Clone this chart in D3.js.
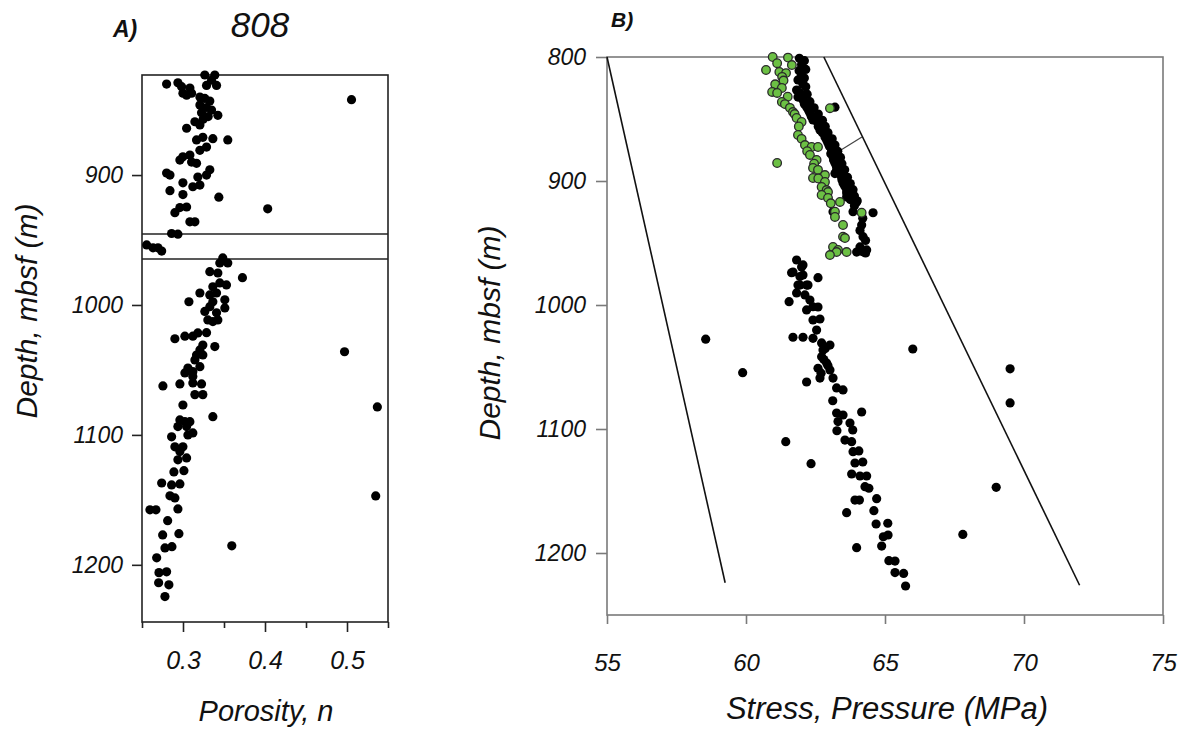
<!DOCTYPE html>
<html><head><meta charset="utf-8">
<script src="https://cdn.jsdelivr.net/npm/d3@7"></script>
<style>
body{margin:0;background:#fff;}
text{font-family:"Liberation Sans",Arial,sans-serif;font-style:italic;fill:#111;}
</style></head><body>
<svg id="c" width="1188" height="732"></svg>
<script>
// ---------- DATA ----------
// Panel A: porosity n vs depth (mbsf)
const porosityPoints = [
[0.3266,823],[0.3388,823],[0.3348,827],[0.3287,831],[0.3409,831],[0.280,830],[0.2938,829],[0.2983,832],
[0.3084,833],[0.2999,837],[0.3044,838.5],[0.3105,837],[0.3206,840],[0.3266,841],[0.3327,843],[0.3206,846],
[0.3287,848],[0.3348,850],[0.3226,852],[0.3307,855],[0.3246,857],[0.3425,854],[0.3145,859],[0.3044,864],
[0.3206,861.5],[0.3242,871],[0.3165,873],[0.3364,872],[0.3546,873],[0.3287,878.5],[0.3206,881],[0.3084,884.6],
[0.2999,886],[0.2962,888.5],[0.3105,890],[0.3165,891],[0.3327,896],[0.280,898.5],[0.2841,900],[0.3181,901.5],
[0.3287,900],[0.2999,906],[0.312,909],[0.3206,907.7],[0.2841,912],[0.2999,915],[0.3437,917],[0.2962,925],
[0.3044,924.6],[0.2901,929],[0.3084,936],[0.3145,936],[0.4033,926],[0.5055,842],
[0.2861,945],[0.2938,945.5],[0.2557,953.8],[0.2634,956],[0.2695,956],[0.274,958.5],
[0.3485,963.8],[0.3546,967.7],[0.3449,967.7],[0.3725,979],[0.3327,974.4],[0.3425,975.4],[0.3449,983],
[0.3364,986],[0.353,984.6],[0.3206,990.8],[0.3327,992.3],[0.3409,990.8],[0.351,996],[0.3072,997.5],
[0.3364,997.5],[0.3327,1001.3],[0.351,1002.3],[0.3266,1005],[0.3409,1006],[0.3303,1011.5],[0.3425,1011.5],
[0.3364,1012.8],[0.2901,1026],[0.3023,1024],[0.312,1024],[0.3181,1021.5],[0.3287,1021.3],[0.3242,1030.8],
[0.3388,1032],[0.3206,1034.6],[0.3165,1038.5],[0.3242,1038.5],[0.3145,1042.3],[0.3206,1047.5],[0.306,1048.5],
[0.312,1051.3],[0.3023,1052.3],[0.312,1055],[0.2755,1062.3],[0.2962,1060.8],[0.312,1060],[0.3226,1060.8],
[0.3145,1069],[0.3242,1069],[0.2999,1077],[0.3364,1086],[0.2962,1088.5],[0.3023,1089.8],[0.3084,1089.8],
[0.2938,1093.6],[0.3044,1093.6],[0.312,1098.5],[0.306,1100],[0.2861,1101.5],[0.2901,1109.2],[0.2999,1109.2],
[0.2962,1112.8],[0.2938,1119.2],[0.3044,1117.7],[0.2889,1128.5],[0.3011,1127.5],[0.274,1137],[0.2861,1138.5],
[0.2962,1137.7],[0.2841,1146.9],[0.2901,1148.5],[0.2938,1157],[0.2597,1157.7],[0.267,1157.7],[0.2813,1166],
[0.2752,1177],[0.295,1176],[0.278,1187],[0.2865,1186],[0.3595,1185.4],[0.2679,1194.6],[0.2707,1206],
[0.28,1205.4],[0.2703,1213.8],[0.2828,1215.4],[0.278,1224.4],
[0.497,1036],[0.537,1078.5],[0.535,1147]
];
// Panel A horizontal boundary depths
const boundaryDepths = [945.4, 964.6];
const porosityTicks = [0.3, 0.4, 0.5];
const porosityMinorTicks = [0.25, 0.35, 0.45, 0.55];
const depthTicksA = [900, 1000, 1100, 1200];

// Panel B: stress/pressure (MPa) vs depth
const blackPoints = [
[61.92,801],[62.0,806],[61.91,811],[62.0,815],[61.87,818.5],[62.05,822],[61.82,826.6],[61.95,829],[61.87,832.3],
[62.05,834.7],[62.1,838],[62.18,840.3],[63.2,840.5],[62.25,843],[62.30,845.2],[62.35,848],[62.41,850.8],[62.5,851],
[62.59,853.2],[62.6,856],[62.66,858.9],[62.75,861],[62.84,864.5],[62.9,867],[62.95,869.4],[63.0,872],[63.08,875],
[63.05,878],[63.13,880.6],[63.15,883],[63.20,885.5],[63.25,888],[63.26,891],[63.2,894],[63.35,894],[63.49,893.5],
[63.44,896.8],[63.45,899],[63.49,901.6],[63.55,904],[63.62,904.8],[63.62,907.3],[63.62,909.7],[63.7,910],
[63.62,912.9],[63.75,915],[63.98,916.9],[63.9,920],[63.85,924.8],[63.13,924.8],[64.57,925.6],[64.16,935.5],
[64.21,944.9],[64.10,953.2],[64.34,955.6],[63.98,957.3],[64.2,957],[64.3,958],
// right side of the dense upper band
[62.1,803],[62.15,810],[62.1,817],[62.15,824],[62.2,830],[62.3,836],[62.45,841],[62.6,846],[62.75,851],
[62.85,856],[62.95,861],[63.1,866],[63.2,871],[63.3,876],[63.4,881],[63.45,886],[63.55,891],[63.65,897],
[63.75,902],[63.85,907],[63.9,912],[64.0,916],[64.2,930],[64.1,940],[64.3,948],
[61.82,963.7],[62.05,967.7],[62.0,969.4],[61.64,974],[61.69,973.4],[62.05,975.8],[61.94,977],[62.59,978],
[61.94,983.9],[62.23,983.9],[62.18,983.9],[61.87,983.9],[61.82,990.3],[62.12,991.9],[61.55,997.3],[62.30,996],
[62.41,1001.4],[62.59,1001.6],[62.18,1004],[62.41,1012.1],[62.66,1011.3],[62.54,1020.2],[61.69,1026],[62.05,1026],
[62.41,1026.9],[62.72,1030.6],[63.02,1032.3],[62.77,1036.3],[62.85,1035],[62.72,1041.7],[62.8,1044],[62.90,1046.8],
[62.95,1049],[62.59,1051],[63.02,1052.4],[62.7,1055],[62.66,1058.9],[63.13,1058.9],[62.18,1062.1],[63.26,1066.9],
[63.49,1068.5],[63.12,1077.2],[64.16,1086.3],[63.26,1087.1],[63.49,1088.7],[63.31,1094],[63.74,1095.2],[63.27,1101.4],
[63.84,1100.8],[63.56,1108.9],[63.80,1110.2],[63.85,1118.3],[64.06,1117.7],[63.92,1127.4],[64.20,1126.6],[63.80,1136.3],
[64.10,1137.9],[64.34,1137.9],[64.28,1146.5],[64.42,1147.8],[63.92,1157.3],[64.08,1157.3],[64.70,1156.2],[63.62,1167.5],
[64.60,1165.9],[64.68,1176.6],[65.10,1176],[64.94,1186.9],[65.11,1185.5],[64.88,1194.4],[63.98,1195.7],[65.14,1206.2],
[65.36,1206.5],[65.36,1215.8],[65.67,1216.5],[65.74,1226.6],
[58.55,1027.6],[59.88,1054.6],[61.43,1110.2],[62.34,1128],[66.0,1035.5],[69.5,1051.5],[69.5,1079],[69.0,1147],[67.8,1185]
];
const greenPoints = [
[60.96,800],[61.51,800.5],[61.12,805],[61.65,806.5],[60.72,810.5],[61.2,812],[61.44,813],[61.3,816],[61.35,819],
[61.05,822],[61.29,825],[60.94,828.2],[61.12,829],[61.5,832],[61.29,836.3],[61.4,838],[61.58,841],[61.69,844.4],
[61.75,846],[61.82,849.2],[62.0,852.4],[61.9,856],[61.87,862.9],[62.0,866],[62.12,871],[62.36,872.6],[62.59,872.6],
[62.2,876],[62.30,879],[62.54,883],[62.45,886],[62.41,889.5],[62.59,891],[62.84,895.2],[62.41,897.6],[62.6,898],
[62.84,900.8],[62.72,904.8],[62.90,907.3],[62.95,908.9],[62.72,911.3],[62.95,913.7],[63.38,916.9],[63.05,918],
[63.20,924.8],[64.16,925.6],[63.20,929],[63.49,935.5],[63.49,944.9],[63.56,946],[63.13,953.2],[63.31,955.6],
[63.62,957.3],[63.26,957.3],[63.02,959.7],[61.12,885.5],[63.02,841.3]
];
const lineLow = [[55,800],[59.25,1224]];
const lineHigh = [[62.8,800],[72.0,1226]];
const tieSegment = [[63.3,876.6],[64.17,864.5]];
const stressTicks = [55, 60, 65, 70, 75];
const depthTicksB = [800, 900, 1000, 1100, 1200];

// ---------- DRAW ----------
const svg = d3.select("#c");
const styleTicks = (g, size) => g.selectAll("text").attr("font-size", size)
  .attr("font-family","Liberation Sans").style("font-style","italic").attr("fill","#111");

// Panel A
const xA = d3.scaleLinear().domain([0.25, 0.55]).range([142, 388]);
const yA = d3.scaleLinear().domain([823, 1244]).range([75, 622]);
const gA = svg.append("g");
const frameA = "#222";

gA.append("rect").attr("x", xA(0.25)).attr("y", yA(823)).attr("width", xA(0.55)-xA(0.25))
  .attr("height", yA(1244)-yA(823)).attr("fill","none").attr("stroke",frameA).attr("stroke-width",1.6);
boundaryDepths.forEach(d => gA.append("line").attr("x1", xA(0.25)).attr("x2", xA(0.55))
  .attr("y1", yA(d)).attr("y2", yA(d)).attr("stroke", frameA).attr("stroke-width", 1.6));

const axAy = gA.append("g").attr("transform",`translate(${xA(0.25)},0)`)
  .call(d3.axisLeft(yA).tickValues(depthTicksA).tickSize(10).tickPadding(9).tickFormat(d3.format("d")).tickSizeOuter(0));
axAy.select(".domain").remove();
axAy.selectAll("line").attr("stroke",frameA).attr("stroke-width",1.6);
styleTicks(axAy, 23);

const axAxMinor = gA.append("g").attr("transform",`translate(0,${yA(1244)})`)
  .call(d3.axisBottom(xA).tickValues(porosityMinorTicks).tickSize(6).tickFormat(""));
axAxMinor.select(".domain").remove();
axAxMinor.selectAll("line").attr("stroke",frameA).attr("stroke-width",1.6);
const axAx = gA.append("g").attr("transform",`translate(0,${yA(1244)})`)
  .call(d3.axisBottom(xA).tickValues(porosityTicks).tickSize(10).tickPadding(19).tickFormat(d3.format(".1f")));
axAx.select(".domain").remove();
axAx.selectAll("line").attr("stroke",frameA).attr("stroke-width",1.6);
styleTicks(axAx, 25);

gA.selectAll("circle.a").data(porosityPoints).enter().append("circle")
  .attr("cx", d => xA(d[0])).attr("cy", d => yA(d[1])).attr("r", 4.6).attr("fill", "#000");

svg.append("text").attr("x", 266).attr("y", 721).attr("text-anchor","middle").attr("font-size",29).text("Porosity, n");
svg.append("text").attr("transform","translate(37,311) rotate(-90)").attr("text-anchor","middle").attr("font-size",30).text("Depth, mbsf (m)");
svg.append("text").attr("x", 113).attr("y", 37).attr("font-size",23).attr("font-weight","bold").text("A)");
svg.append("text").attr("x", 260).attr("y", 37).attr("text-anchor","middle").attr("font-size",35).text("808");

// Panel B
const xB = d3.scaleLinear().domain([55, 75]).range([607, 1163]);
const yB = d3.scaleLinear().domain([800, 1250]).range([57, 615]);
const gB = svg.append("g");
const frameB = "#7a7a7a";

gB.append("rect").attr("x", xB(55)).attr("y", yB(800)).attr("width", xB(75)-xB(55))
  .attr("height", yB(1250)-yB(800)).attr("fill","none").attr("stroke",frameB).attr("stroke-width",1.6);

const axBy = gB.append("g").attr("transform",`translate(${xB(55)},0)`)
  .call(d3.axisLeft(yB).tickValues(depthTicksB).tickSize(11).tickPadding(10).tickFormat(d3.format("d")).tickSizeOuter(0));
axBy.select(".domain").remove();
axBy.selectAll("line").attr("stroke",frameB).attr("stroke-width",1.6);
styleTicks(axBy, 23);

const axBx = gB.append("g").attr("transform",`translate(0,${yB(1250)})`)
  .call(d3.axisBottom(xB).tickValues(stressTicks).tickSize(9).tickPadding(30).tickFormat(d3.format("d")).tickSizeOuter(0));
axBx.select(".domain").remove();
axBx.selectAll("line").attr("stroke",frameB).attr("stroke-width",1.6);
styleTicks(axBx, 24);

const lineGen = d3.line().x(d => xB(d[0])).y(d => yB(d[1]));
[lineLow, lineHigh].forEach(l => gB.append("path").attr("d", lineGen(l)).attr("fill","none").attr("stroke","#111").attr("stroke-width",1.6));
gB.append("path").attr("d", lineGen(tieSegment)).attr("fill","none").attr("stroke","#444").attr("stroke-width",1.2);

gB.selectAll("circle.b").data(blackPoints).enter().append("circle")
  .attr("cx", d => xB(d[0])).attr("cy", d => yB(d[1])).attr("r", 4.6).attr("fill", "#000");
gB.selectAll("circle.g").data(greenPoints).enter().append("circle")
  .attr("cx", d => xB(d[0])).attr("cy", d => yB(d[1])).attr("r", 4.3)
  .attr("fill", "#6cc044").attr("stroke","#2a2a2a").attr("stroke-width",1.3);

svg.append("text").attr("x", 887).attr("y", 719).attr("text-anchor","middle").attr("font-size",31).text("Stress, Pressure (MPa)");
svg.append("text").attr("transform","translate(500,333) rotate(-90)").attr("text-anchor","middle").attr("font-size",30).text("Depth, mbsf (m)");
svg.append("text").attr("x", 611).attr("y", 27).attr("font-size",21).attr("font-weight","bold").text("B)");
</script>
</body></html>
